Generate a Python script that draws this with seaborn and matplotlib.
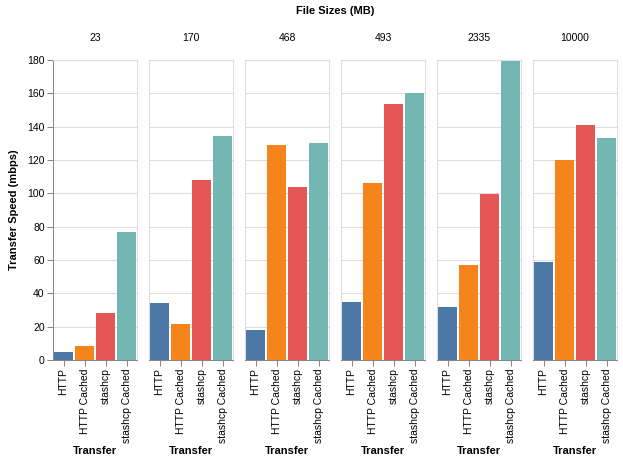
import pandas as pd
import seaborn as sns
import matplotlib.pyplot as plt

# data
file_sizes = ["23", "170", "468", "493", "2335", "10000"]
transfers = ["HTTP", "HTTP Cached", "stashcp", "stashcp Cached"]
http = [5, 34, 18, 34.7, 31.8, 58.8]
http_cached = [8.6, 21.5, 129, 106, 57, 120]
stashcp = [28.5, 108, 104, 153.5, 99.6, 140.8]
stashcp_cached = [77, 134.5, 130, 160, 180, 133.5]

colors = ["#4c78a8", "#f58518", "#e45756", "#72b7b2"]

rows = []
for i, size in enumerate(file_sizes):
    for name, vals in zip(transfers, [http, http_cached, stashcp, stashcp_cached]):
        rows.append({"size": size, "Transfer": name, "speed": vals[i]})
df = pd.DataFrame(rows)

sns.set_theme(style="white")
plt.rcParams["font.family"] = ["Liberation Sans", "DejaVu Sans"]
plt.rcParams.update({"text.color": "black", "axes.labelcolor": "black",
                     "xtick.color": "black", "ytick.color": "black"})

W, H = 623, 462
fig = plt.figure(figsize=(W / 100, H / 100), dpi=100)

panel_w, gap = 84, 12
left0, top, bottom = 53, 60, 360
grid_c = "#dddddd"
axis_c = "#888888"

for i, size in enumerate(file_sizes):
    x0 = left0 + i * (panel_w + gap)
    ax = fig.add_axes([x0 / W, (H - bottom) / H, panel_w / W, (bottom - top) / H])
    sub = df[df["size"] == size]
    sns.barplot(data=sub, x="Transfer", y="speed", hue="Transfer", order=transfers,
                hue_order=transfers, palette=colors, saturation=1, width=0.9,
                linewidth=0, legend=False, ax=ax, zorder=2)
    ax.set_xlim(-0.5, 3.5)
    ax.set_ylim(0, 180)
    ax.set_yticks(range(0, 181, 20))
    ax.grid(axis="y", color=grid_c, linewidth=0.75, zorder=0)
    ax.set_axisbelow(True)
    for side in ["top", "right", "left"]:
        ax.spines[side].set_color(grid_c)
        ax.spines[side].set_linewidth(0.75)
    ax.spines["bottom"].set_color(axis_c)
    ax.spines["bottom"].set_linewidth(0.75)
    ax.tick_params(axis="x", bottom=True, length=4, width=0.75, color=axis_c,
                   labelsize=7.5, pad=2, rotation=90, labelcolor="black")
    if i == 0:
        ax.spines["left"].set_color(axis_c)
        ax.tick_params(axis="y", left=True, length=4, width=0.75, color=axis_c,
                       labelsize=7.5, pad=2, labelcolor="black")
        ax.set_ylabel("Transfer Speed (mbps)", fontsize=8, fontweight="bold",
                      labelpad=6, color="black")
    else:
        ax.tick_params(axis="y", left=False, labelleft=False)
        ax.set_ylabel("")
    ax.set_xlabel("Transfer", fontsize=8, fontweight="bold", labelpad=2, color="black")
    ax.set_title(size, fontsize=7.5, pad=14, color="black")

fig.text(335 / W, 1 - 11 / H, "File Sizes (MB)", ha="center", va="center",
         fontsize=8, fontweight="bold", color="black")

fig.savefig("out.png", dpi=100, facecolor="white")
